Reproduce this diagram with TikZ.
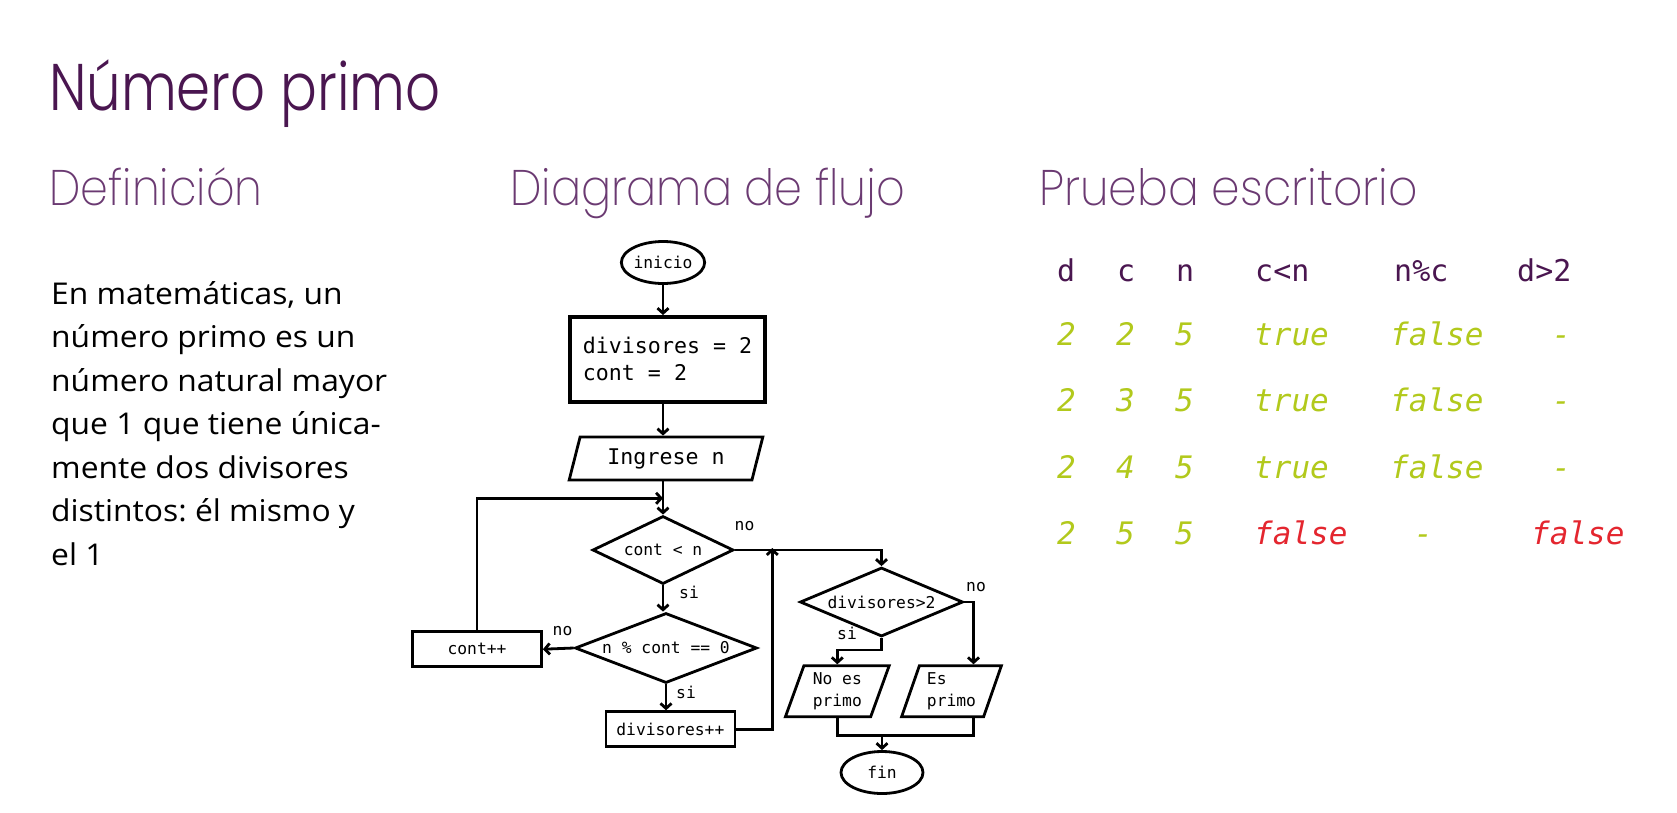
\documentclass[tikz,border=0pt]{standalone}
\usepackage{fontspec}
\usepackage{graphicx}
\usetikzlibrary{shapes.geometric,arrows.meta,calc}

\newfontfamily\monofont{DejaVu Sans Mono}
\newfontfamily\bodyfont{Open Sans}
\IfFontExistsTF{Poppins Light}
  {\newfontfamily\titlefont{Poppins Light}}
  {\newfontfamily\titlefont{Poppins}}
\IfFontExistsTF{Poppins ExtraLight}
  {\newfontfamily\subfont{Poppins ExtraLight}}
  {\IfFontExistsTF{Poppins Thin}
     {\newfontfamily\subfont{Poppins Thin}}
     {\newfontfamily\subfont{Poppins}}}

\newcommand\smallmono{\monofont\fontsize{16.3}{22}\selectfont}
\newcommand\bigmono{\monofont\fontsize{21.6}{27}\selectfont}

\definecolor{titlepurple}{HTML}{4A1650}
\definecolor{subpurple}{HTML}{6B3A72}
\definecolor{rowgreen}{HTML}{B2C91C}
\definecolor{rowred}{HTML}{E4262F}

\frenchspacing

\begin{document}
\begin{tikzpicture}[x=1pt,y=-1pt,
  flow/.style={draw, line width=2.8pt, fill=white, inner sep=0pt, font=\smallmono},
  termbox/.style={flow, ellipse, minimum width=82pt, minimum height=42pt},
  procbox/.style={flow, rectangle, minimum height=35pt},
  iobox/.style={flow, trapezium, trapezium left angle=70, trapezium right angle=110,
                trapezium stretches=true, align=left},
  decbox/.style={flow, diamond, aspect=2.6},
  conn/.style={line width=2.8pt, -{Straight Barb[length=5pt,width=11pt]}},
  plainline/.style={line width=2.8pt},
  lbl/.style={font=\smallmono, inner sep=0pt},
  heading/.style={anchor=base west, inner sep=0pt, text=subpurple,
                  font=\subfont\fontsize{50}{50}\selectfont},
  deftext/.style={anchor=base west, inner sep=0pt, text=black,
                  font=\bodyfont\fontsize{30}{30}\selectfont},
  thead/.style={anchor=base west, inner sep=0pt, text=titlepurple,
                font=\monofont\fontsize{30}{30}\selectfont},
  tok/.style={anchor=base west, inner sep=0pt, text=rowgreen,
              font=\monofont\itshape\fontsize{31}{31}\selectfont},
  tbad/.style={tok, text=rowred}
]
\useasboundingbox[fill=white] (0,0) rectangle (1677,812);

% titles
\node[anchor=base west, inner sep=0pt, text=titlepurple,
      font=\titlefont\fontsize{66}{66}\selectfont] (title) at (49,110)
      {\scalebox{0.827}[1]{Número primo}};
\node[heading] (hdef)  at (49,205)  {\scalebox{0.89}[1]{Definición}};
\node[heading] (hflow) at (510,205) {\scalebox{0.893}[1]{Diagrama de flujo}};
\node[heading] (htest) at (1039,205) {\scalebox{0.915}[1]{Prueba escritorio}};

% definition text
\foreach \txt [count=\i] in {{En matemáticas, un},{número primo es un},
    {número natural mayor},{que 1 que tiene única-},{mente dos divisores},
    {distintos: él mismo y},{el 1}}
  \node[deftext] (def\i) at (51,{304.3+43.45*(\i-1)}) {\scalebox{1.06}[1]{\txt}};

% flowchart
\coordinate (spine) at (663,0);
\node[termbox] (inicio) at (663,262.5) {inicio};
\node[flow, rectangle, line width=3.8pt, minimum width=195pt, minimum height=84.7pt,
      font=\bigmono, align=left] (init) at (667.5,359.3) {divisores = 2\\cont = 2};
\node[iobox, font=\bigmono, minimum width=194pt, minimum height=43pt]
      (ingrese) at (666,458.5) {Ingrese n};
\node[decbox, minimum width=141pt, minimum height=68pt] (cond1) at (663,550) {cont < n};
\node[decbox, minimum width=182pt, minimum height=70pt] (cond2) at (666,648) {n \% cont == 0};
\node[procbox, minimum width=129pt] (inc) at (477,649.2) {cont++};
\node[procbox, minimum width=129pt] (dinc) at (670.4,729.2) {divisores++};
\node[decbox, minimum width=163pt, minimum height=69pt] (check) at (881.5,602) {divisores>2};
\node[iobox, minimum width=104pt, minimum height=51pt] (noes) at (837.3,691.2) {No es\\primo};
\node[iobox, minimum width=100pt, minimum height=51pt] (es) at (951.5,691.2) {Es\\primo};
\node[termbox] (fin) at (882,772.5) {fin};

\coordinate (loopin) at (663,498.3);
\coordinate (backin) at (772.3,548);
\coordinate (joinpt) at (882,735.7);

\draw[conn] (inicio.south) -- (spine |- init.north);
\draw[conn] (spine |- init.south) -- (spine |- ingrese.north);
\draw[conn] (spine |- ingrese.south) -- (cond1.north);
\draw[conn] (cond1.south) -- (cond1.south |- cond2.north);
\draw[conn] (cond2.west) -- (inc.east);
\draw[conn] (inc.north) |- (loopin);
\draw[conn] (cond2.south) -- (cond2.south |- dinc.north);
\draw[conn] (dinc.east) -| (backin);
\draw[conn] (cond1.east) -| (check.north);
\draw[conn] (check.east) -| ([xshift=22pt]es.north);
\draw[conn] (check.south) -- ++(0,12) -| (noes.north);
\draw[plainline] (noes.south) |- (joinpt) -| ([xshift=22pt]es.south);
\draw[conn] (joinpt) -- (fin.north);

% branch labels
\node[lbl] (no1) at (744.5,526) {no};
\node[lbl] (si1) at (689,592) {si};
\node[lbl] (no2) at (562.5,631) {no};
\node[lbl] (si2) at (686,692) {si};
\node[lbl] (no3) at (976,587) {no};
\node[lbl] (si3) at (847,633) {si};

% trace table
\node[thead] (hd)  at (1057,281.7) {d};
\node[thead] (hc)  at (1117,281.7) {c};
\node[thead] (hn)  at (1176,281.7) {n};
\node[thead] (hcn) at (1255,281.7) {c<n};
\node[thead] (hnc) at (1394,281.7) {n\%c};
\node[thead] (hd2) at (1517,281.7) {d>2};

\foreach \c/\r [count=\i] in {2/345,3/411.5,4/478,5/544.5} {
  \node[tok] (d\i) at (1057,\r) {2};
  \node[tok] (c\i) at (1116,\r) {\c};
  \node[tok] (n\i) at (1175,\r) {5};
}
\foreach \r [count=\i] in {345,411.5,478} {
  \node[tok] (lt\i) at (1254,\r) {true};
  \node[tok] (md\i) at (1390,\r) {false};
  \node[tok] (gt\i) at (1552,\r) {-};
}
\node[tbad] (lt4) at (1254,544.5) {false};
\node[tok]  (md4) at (1414,544.5) {-};
\node[tbad] (gt4) at (1531,544.5) {false};
\end{tikzpicture}
\end{document}
